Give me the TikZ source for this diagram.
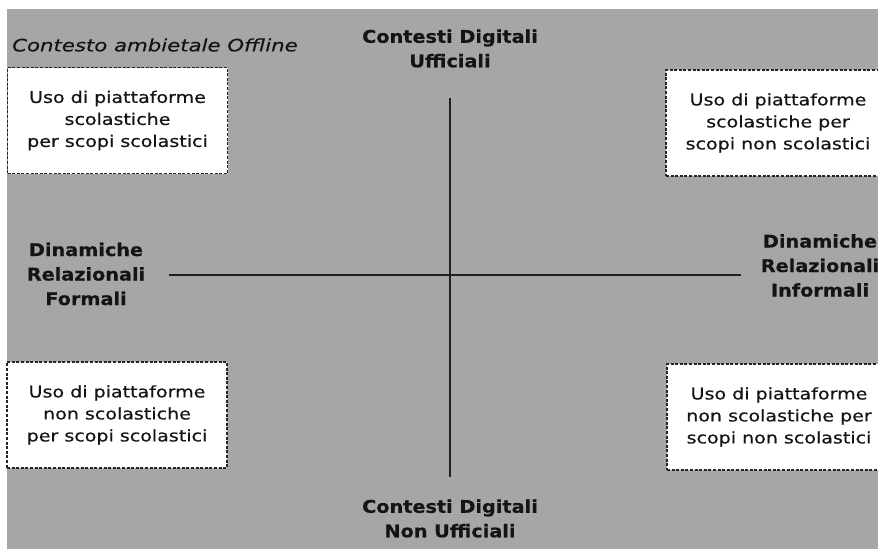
\documentclass[tikz,border=0pt]{standalone}
\usepackage{fontspec}
\setmainfont{DejaVu Sans}
% wide Verdana-like faces
\newfontfamily\boxfont[FakeStretch=1.19,FakeBold=0.5]{DejaVu Sans}
\newfontfamily\labelfont[FakeStretch=1.10,FakeBold=0.4]{DejaVu Sans Bold}
\newfontfamily\titlefont[FakeStretch=1.25,FakeBold=0.5]{DejaVu Sans Oblique}
\begin{document}
\begin{tikzpicture}[x=1pt,y=-1pt,
  quadbox/.style={draw=black!85,fill=white,dash pattern=on 3pt off 1.6pt,line width=1.7pt,
    minimum width=220pt,minimum height=106pt,align=center,font=\boxfont\fontsize{16}{22}\selectfont,inner sep=0pt,text=black!92},
  axislabel/.style={align=center,font=\labelfont\fontsize{17.5}{24.5}\selectfont,text=black!92},
  axis/.style={line width=1.8pt,draw=black!88}]
\useasboundingbox (0,0) rectangle (878,549);
% page background and grey panel
\fill[white] (0,0) rectangle (878,549);
\fill[black!35] (7,9) rectangle (878,549);

\node[font=\titlefont\fontsize{17}{18}\selectfont,anchor=west,text=black!92,inner sep=0pt] (title) at (12,45) {Contesto ambietale Offline};

% quadrant boxes
\node[quadbox] (tl) at (117.5,120.5) {Uso di piattaforme\\scolastiche\\per scopi scolastici};
\node[quadbox,minimum width=224pt] (tr) at (778,123) {Uso di piattaforme\\scolastiche per\\scopi non scolastici};
\node[quadbox] (bl) at (117,415) {Uso di piattaforme\\non scolastiche\\per scopi scolastici};
\node[quadbox,minimum width=224pt] (br) at (779,417) {Uso di piattaforme\\non scolastiche per\\scopi non scolastici};

% axis labels
\node[axislabel] (top) at (450,48.5) {Contesti Digitali\\Ufficiali};
\node[axislabel] (bottom) at (450,518.5) {Contesti Digitali\\Non Ufficiali};
\node[axislabel] (left) at (86,274) {Dinamiche\\Relazionali\\Formali};
\node[axislabel] (right) at (820,265.5) {Dinamiche\\Relazionali\\Informali};

% axes
\coordinate (vtop) at (450,98);
\coordinate (vbot) at (450,477);
\coordinate (hleft) at (169,275);
\coordinate (hright) at (741,275);
\draw[axis] (vtop) -- (vbot);
\draw[axis] (hleft) -- (hright);
\end{tikzpicture}
\end{document}
